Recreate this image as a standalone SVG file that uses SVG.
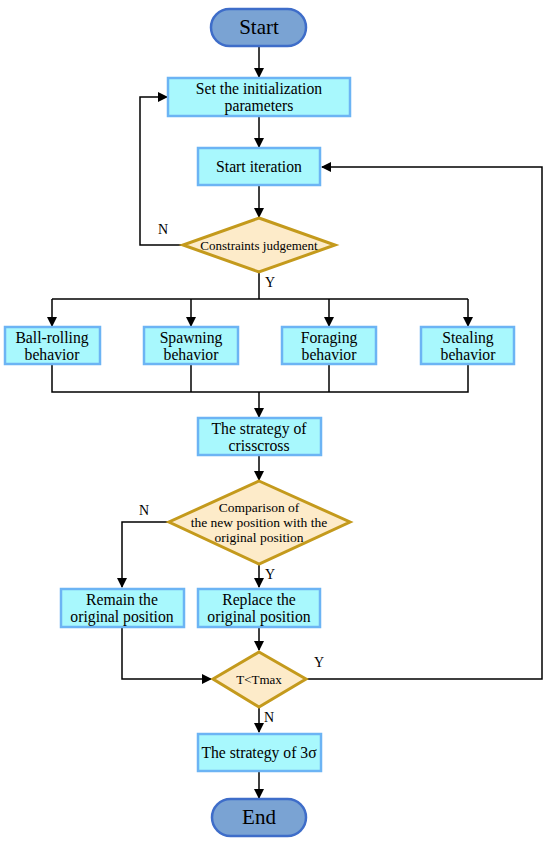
<svg xmlns="http://www.w3.org/2000/svg" width="550" height="842" viewBox="0 0 550 842">
<style>
.box{fill:#A8F8FD;stroke:#6CB4F4;stroke-width:2.5}
.term{fill:#7AA3D3;stroke:#3E6DC9;stroke-width:2.5}
.dia{fill:#FDEBC9;stroke:#C49A1C;stroke-width:3}
.line{fill:none;stroke:#000;stroke-width:1.5}
text{font-family:"Liberation Serif","Times New Roman",serif;fill:#000;text-anchor:middle}
.t{font-size:15.7px}
.big{font-size:21px}
.lbl{font-size:14px;text-anchor:start}
</style>
<defs>
<marker id="arr" markerWidth="10" markerHeight="10" refX="9" refY="5" orient="auto" markerUnits="userSpaceOnUse">
<path d="M0,0 L10,5 L0,10 Z" fill="#000"/>
</marker>
</defs>
<rect width="550" height="842" fill="#fff"/>
<g id="connectors">
<path class="line" d="M259,46 V77" marker-end="url(#arr)"/>
<path class="line" d="M259,116 V147" marker-end="url(#arr)"/>
<path class="line" d="M259,185 V217" marker-end="url(#arr)"/>
<path class="line" d="M183,245 H140 V97 H167" marker-end="url(#arr)"/>
<path class="line" d="M259,272 V299"/>
<path class="line" d="M52,299 H468"/>
<path class="line" d="M52,299 V326" marker-end="url(#arr)"/>
<path class="line" d="M191,299 V326" marker-end="url(#arr)"/>
<path class="line" d="M329,299 V326" marker-end="url(#arr)"/>
<path class="line" d="M468,299 V326" marker-end="url(#arr)"/>
<path class="line" d="M52,364 V392 H468 V364"/>
<path class="line" d="M191,364 V392"/>
<path class="line" d="M329,364 V392"/>
<path class="line" d="M259,392 V417" marker-end="url(#arr)"/>
<path class="line" d="M259,455 V480" marker-end="url(#arr)"/>
<path class="line" d="M169,522 H122 V587" marker-end="url(#arr)"/>
<path class="line" d="M259,564 V587" marker-end="url(#arr)"/>
<path class="line" d="M259,627 V650" marker-end="url(#arr)"/>
<path class="line" d="M122,627 V679 H211" marker-end="url(#arr)"/>
<path class="line" d="M306,679 H542 V167 H322" marker-end="url(#arr)"/>
<path class="line" d="M259,707 V732" marker-end="url(#arr)"/>
<path class="line" d="M259,771 V798" marker-end="url(#arr)"/>
<text class="lbl" x="158" y="234">N</text>
<text class="lbl" x="265" y="287">Y</text>
<text class="lbl" x="139" y="515">N</text>
<text class="lbl" x="265" y="579">Y</text>
<text class="lbl" x="314" y="667">Y</text>
<text class="lbl" x="264" y="722">N</text>
</g>
<g id="start">
<rect class="term" x="211" y="9" width="95" height="37" rx="18.5"/>
<text class="big" x="259" y="34">Start</text>
</g>
<g id="init">
<rect class="box" x="168" y="78" width="182" height="38"/>
<text class="t" x="259" y="94">Set the initialization</text>
<text class="t" x="259" y="111">parameters</text>
</g>
<g id="iter">
<rect class="box" x="198" y="148" width="122" height="37"/>
<text class="t" x="259" y="172">Start iteration</text>
</g>
<g id="constraints">
<polygon class="dia" points="259,218 335,245 259,272 183,245"/>
<text x="259" y="249.5" font-size="13">Constraints judgement</text>
</g>
<g id="ball">
<rect class="box" x="5" y="327" width="95" height="37"/>
<text class="t" x="52" y="343">Ball-rolling</text>
<text class="t" x="52" y="360">behavior</text>
</g>
<g id="spawn">
<rect class="box" x="144" y="327" width="94" height="37"/>
<text class="t" x="191" y="343">Spawning</text>
<text class="t" x="191" y="360">behavior</text>
</g>
<g id="forage">
<rect class="box" x="282" y="327" width="94" height="37"/>
<text class="t" x="329" y="343">Foraging</text>
<text class="t" x="329" y="360">behavior</text>
</g>
<g id="steal">
<rect class="box" x="421" y="327" width="93" height="37"/>
<text class="t" x="468" y="343">Stealing</text>
<text class="t" x="468" y="360">behavior</text>
</g>
<g id="crisscross">
<rect class="box" x="198" y="418" width="123" height="37"/>
<text class="t" x="259" y="434">The strategy of</text>
<text class="t" x="259" y="451">crisscross</text>
</g>
<g id="comparison">
<polygon class="dia" points="259,481 350,522 259,564 169,522"/>
<text x="259" y="512" font-size="13.5">Comparison of</text>
<text x="259" y="527" font-size="13.5">the new position with the</text>
<text x="259" y="542" font-size="13.5">original position</text>
</g>
<g id="remain">
<rect class="box" x="61" y="589" width="123" height="38"/>
<text class="t" x="122" y="605">Remain the</text>
<text class="t" x="122" y="622">original position</text>
</g>
<g id="replace">
<rect class="box" x="198" y="589" width="122" height="38"/>
<text class="t" x="259" y="605">Replace the</text>
<text class="t" x="259" y="622">original position</text>
</g>
<g id="tmax">
<polygon class="dia" points="259,652 306,679 259,707 213,679"/>
<text x="259" y="684" font-size="13">T&lt;Tmax</text>
</g>
<g id="sigma">
<rect class="box" x="198" y="734" width="123" height="37"/>
<text class="t" x="259" y="758">The strategy of 3σ</text>
</g>
<g id="end">
<rect class="term" x="212" y="799" width="94" height="37" rx="18.5"/>
<text class="big" x="259" y="824">End</text>
</g>
</svg>
